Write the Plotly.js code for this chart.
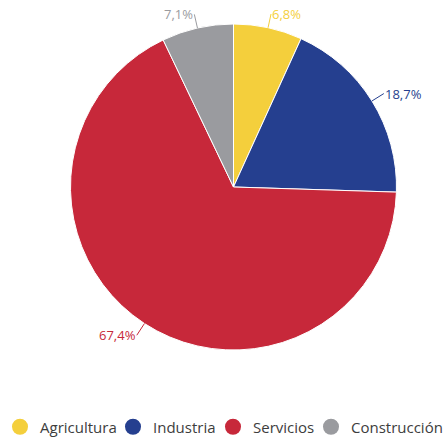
<!DOCTYPE html>
<html><head><meta charset="utf-8">
<script src="https://cdn.plot.ly/plotly-3.0.1.min.js"></script>
<style>html,body{margin:0;padding:0;background:#fff}</style>
</head><body><div id="chart" style="width:448px;height:439px"></div>
<script>
const categories = ["Agricultura", "Industria", "Servicios", "Construcción"];
const values = [6.8, 18.7, 67.4, 7.1];
const colors = ["#f4cf3c", "#253f8f", "#c7283a", "#9a9b9f"];

const W = 448, H = 439;
// pie geometry (layout, in pixels)
const cx = 233.5, cy = 187, R = 163;
const domainR = R;
const labelDist = 14;
const legendTextStart = [38, 155, 255, 353];

const pie = {
  type: "pie",
  labels: categories,
  values: values,
  sort: false,
  direction: "clockwise",
  rotation: 0,
  marker: {colors: colors, line: {color: "#ffffff", width: 1}},
  textinfo: "none",
  hoverinfo: "label+percent",
  showlegend: false,
  domain: {x: [(cx - domainR) / W, (cx + domainR) / W], y: [1 - (cy + domainR) / H, 1 - (cy - domainR) / H]}
};

// outside labels with connectors, placed from the data's slice angles
const total = values.reduce((a, b) => a + b, 0);
let cum = 0;
const annotations = values.map((v, i) => {
  const mid = (cum + v / 2) / total * 2 * Math.PI;
  cum += v;
  const dx = Math.sin(mid), dy = -Math.cos(mid);
  const ex = cx + R * dx, ey = cy + R * dy;
  const right = dx >= 0;
  return {
    xref: "paper", yref: "paper",
    x: ex / W, y: 1 - ey / H,
    ax: labelDist * dx, ay: labelDist * dy,
    xanchor: right ? "left" : "right", yanchor: "middle",
    text: v.toFixed(1).replace(".", ",") + "%",
    font: {family: "Open Sans", size: 13, color: colors[i]},
    showarrow: true, arrowhead: 0, arrowwidth: 1, arrowcolor: colors[i],
    standoff: 0, startstandoff: 0, borderpad: 0
  };
});

const legendNames = ["legend", "legend2", "legend3", "legend4"];
const legendTraces = categories.map((c, i) => ({
  type: "scatter", mode: "markers", x: [null], y: [null], name: c,
  legend: legendNames[i],
  marker: {symbol: "circle", size: 16, color: colors[i]}, hoverinfo: "skip"
}));

const layout = {
  width: W, height: H,
  margin: {l: 0, r: 0, t: 0, b: 0, autoexpand: false},
  paper_bgcolor: "#ffffff", plot_bgcolor: "#ffffff",
  xaxis: {visible: false}, yaxis: {visible: false},
  showlegend: true,
  annotations: annotations,
  font: {family: "Open Sans"}
};
legendNames.forEach((ln, i) => {
  layout[ln] = {
    orientation: "h", xref: "container", yref: "container",
    x: (legendTextStart[i] - 42) / W, xanchor: "left",
    y: 1 - 427 / H, yanchor: "middle", bgcolor: "rgba(0,0,0,0)",
    font: {family: "Open Sans", size: 15, color: "#3d3d3d"}, itemwidth: 30
  };
});
Plotly.newPlot("chart", [pie, ...legendTraces], layout, {displayModeBar: false, staticPlot: true});
</script></body></html>
